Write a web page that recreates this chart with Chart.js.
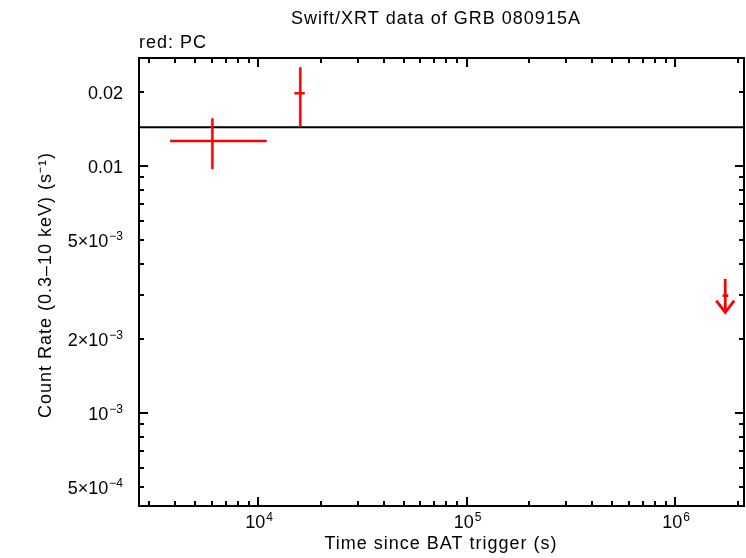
<!DOCTYPE html>
<html>
<head>
<meta charset="utf-8">
<script src="https://cdn.jsdelivr.net/npm/chart.js@4/dist/chart.umd.min.js"></script>
<style>
  body { margin: 0; background: #fff; }
  canvas { display: block; }
</style>
</head>
<body>
<canvas id="lc" width="746" height="558"></canvas>
<script>
// axis ranges
const xMin = 2685, xMax = 2.14e6;
const yMin = 4.2e-4, yMax = 0.02736;

// PC mode points (time, errors, rate, errors)
const pcTime   = [6040, 15950];
const pcTimeLo = [3785, 14930];
const pcTimeHi = [11010, 16750];
const pcRate   = [0.01262, 0.01969];
const pcRateLo = [0.00970, 0.01452];
const pcRateHi = [0.0156, 0.0251];

// PC upper limit
const ulTime     = [1.74e6];
const ulTimeLo   = [1.69e6];
const ulTimeHi   = [1.80e6];
const ulRate     = [2.985e-3];
const ulArrowTop = [3.49e-3];
const ulArrowTip = [2.55e-3];

// mean level line
const meanRate = 0.01435;

// tick labels: [mantissa part, exponent]
const xTickValues = [1e4, 1e5, 1e6];
const xTickLabels = [['10', '4'], ['10', '5'], ['10', '6']];
const yTickValues = [0.02, 0.01, 0.005, 0.002, 0.001, 0.0005];
const yTickLabels = [['0.02', ''], ['0.01', ''], ['5\u00d710', '\u22123'], ['2\u00d710', '\u22123'], ['10', '\u22123'], ['5\u00d710', '\u22124']];

const FONT = '"Liberation Sans", Arial, sans-serif';
const RED = '#ff0000';

function logTicks(min, max) {
    const out = [];
    for (let e = Math.floor(Math.log10(min)); e <= Math.ceil(Math.log10(max)); e++) {
        for (let m = 1; m <= 9; m++) {
            const v = parseFloat((m * Math.pow(10, e)).toPrecision(6));
            if (v >= min && v <= max) out.push({ value: v, major: m === 1 });
        }
    }
    return out;
}

const errorBars = {
    id: 'errorBars',
    afterDatasetsDraw(chart) {
        const c = chart.ctx, xs = chart.scales.x, ys = chart.scales.y;
        c.save();
        c.strokeStyle = RED;
        c.lineWidth = 2.5;
        c.beginPath();
        for (let i = 0; i < pcTime.length; i++) {
            const px = xs.getPixelForValue(pcTime[i]), py = ys.getPixelForValue(pcRate[i]);
            c.moveTo(xs.getPixelForValue(pcTimeLo[i]), py);
            c.lineTo(xs.getPixelForValue(pcTimeHi[i]), py);
            c.moveTo(px, ys.getPixelForValue(pcRateHi[i]));
            c.lineTo(px, ys.getPixelForValue(pcRateLo[i]));
        }
        c.stroke();
        c.lineWidth = 2.8;
        c.beginPath();
        for (let i = 0; i < ulTime.length; i++) {
            const px = xs.getPixelForValue(ulTime[i]), py = ys.getPixelForValue(ulRate[i]);
            const tip = ys.getPixelForValue(ulArrowTip[i]);
            c.moveTo(xs.getPixelForValue(ulTimeLo[i]), py);
            c.lineTo(xs.getPixelForValue(ulTimeHi[i]), py);
            c.moveTo(px, ys.getPixelForValue(ulArrowTop[i]));
            c.lineTo(px, tip);
            c.moveTo(px - 9, tip - 12);
            c.lineTo(px, tip);
            c.lineTo(px + 9, tip - 12);
        }
        c.stroke();
        c.restore();
    }
};

function drawLabel(c, base, exp, x, y, align) {
    c.font = '18px ' + FONT;
    const wb = c.measureText(base).width;
    c.font = '12px ' + FONT;
    const we = exp ? c.measureText(exp).width + 1 : 0;
    let left = align === 'right' ? x - wb - we : x - (wb + we) / 2;
    c.textAlign = 'left';
    c.textBaseline = 'alphabetic';
    c.font = '18px ' + FONT;
    c.fillText(base, left, y);
    if (exp) {
        c.font = '12px ' + FONT;
        c.fillText(exp, left + wb + 1, y - 7);
    }
}

const frame = {
    id: 'frame',
    afterDraw(chart) {
        const c = chart.ctx, a = chart.chartArea, xs = chart.scales.x, ys = chart.scales.y;
        c.save();
        c.strokeStyle = '#000';
        c.lineWidth = 2;
        c.strokeRect(a.left, a.top, a.right - a.left, a.bottom - a.top);
        c.beginPath();
        xs.ticks.forEach(t => {
            const px = Math.round(xs.getPixelForValue(t.value));
            const len = t.major ? 9 : 5;
            c.moveTo(px, a.bottom); c.lineTo(px, a.bottom - len);
            c.moveTo(px, a.top); c.lineTo(px, a.top + len);
        });
        ys.ticks.forEach(t => {
            const py = Math.round(ys.getPixelForValue(t.value));
            const len = t.major ? 9 : 5;
            c.moveTo(a.left, py); c.lineTo(a.left + len, py);
            c.moveTo(a.right, py); c.lineTo(a.right - len, py);
        });
        c.stroke();

        c.fillStyle = '#000';
        xTickValues.forEach((v, i) => {
            drawLabel(c, xTickLabels[i][0], xTickLabels[i][1], xs.getPixelForValue(v) + 1, 528, 'center');
        });
        yTickValues.forEach((v, i) => {
            drawLabel(c, yTickLabels[i][0], yTickLabels[i][1], 123, ys.getPixelForValue(v) + 7, 'right');
        });

        c.font = '18px ' + FONT;
        c.letterSpacing = '1px';
        c.textAlign = 'center';
        c.textBaseline = 'alphabetic';
        c.fillText('Swift/XRT data of GRB 080915A', 436, 24);
        c.fillText('Time since BAT trigger (s)', 441, 549);
        c.textAlign = 'left';
        c.fillText('red: PC', 139, 48);
        c.translate(51, 285);
        c.rotate(-Math.PI / 2);
        c.textAlign = 'center';
        c.fillText('Count Rate (0.3\u201310 keV) (s\u207b\u00b9)', 0, 0);
        c.restore();
    }
};

new Chart(document.getElementById('lc'), {
    type: 'scatter',
    plugins: [errorBars, frame],
    data: {
        datasets: [
            {
                label: 'PC',
                data: pcTime.map((t, i) => ({ x: t, y: pcRate[i] })),
                pointRadius: 0,
                showLine: false,
            },
            {
                label: 'mean',
                data: [{ x: xMin, y: meanRate }, { x: xMax, y: meanRate }],
                showLine: true,
                borderColor: '#000',
                borderWidth: 2,
                pointRadius: 0,
            },
        ]
    },
    options: {
        responsive: false,
        animation: false,
        events: [],
        layout: { padding: { left: 0, top: 58, right: 2, bottom: 0 } },
        plugins: {
            legend: { display: false },
            tooltip: { enabled: false },
        },
        scales: {
            x: {
                type: 'logarithmic',
                min: xMin,
                max: xMax,
                grid: { display: false, drawTicks: false },
                border: { display: false },
                afterBuildTicks: s => { s.ticks = logTicks(xMin, xMax); },
                afterFit: s => { s.height = 52; },
                ticks: { display: false },
            },
            y: {
                type: 'logarithmic',
                min: yMin,
                max: yMax,
                grid: { display: false, drawTicks: false },
                border: { display: false },
                afterBuildTicks: s => { s.ticks = logTicks(yMin, yMax); },
                afterFit: s => { s.width = 139; },
                ticks: { display: false },
            },
        },
    },
});
</script>
</body>
</html>
